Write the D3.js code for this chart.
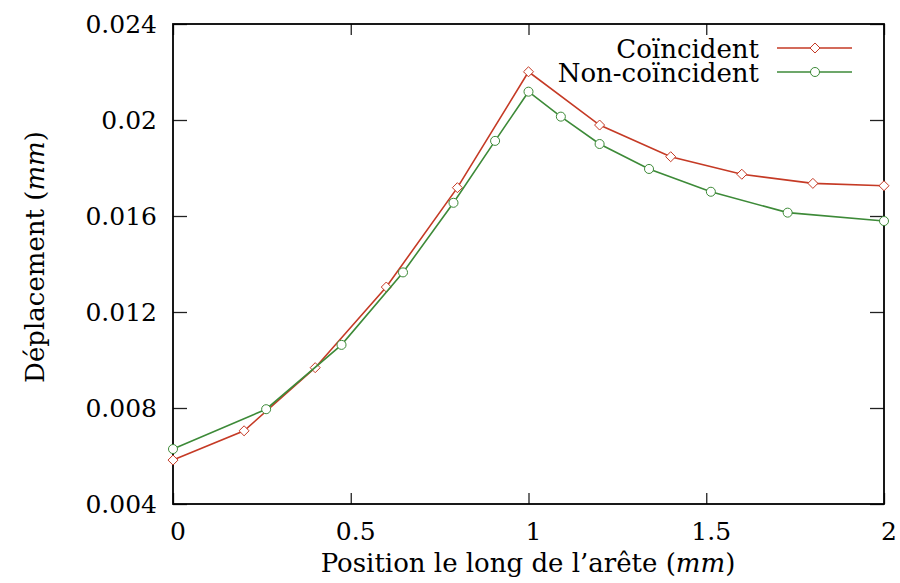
<!DOCTYPE html>
<html>
<head>
<meta charset="utf-8">
<script src="https://cdn.jsdelivr.net/npm/d3@7"></script>
<style>
  body { margin: 0; background: #fff; }
  svg { display: block; }
</style>
</head>
<body>
<svg id="chart" width="900" height="583"></svg>
<script>
// data
const seriesNames = ["Coïncident", "Non-coïncident"];
const coincX = [0, 0.2, 0.4, 0.6, 0.8, 1.0, 1.2, 1.4, 1.6, 1.8, 2.0];
const coincY = [0.00583, 0.00705, 0.00968, 0.01304, 0.01718, 0.02201, 0.01979, 0.01847, 0.01774, 0.01736, 0.01726];
const nonCoincX = [0, 0.262, 0.474, 0.647, 0.789, 0.906, 1.0, 1.091, 1.2, 1.339, 1.513, 1.729, 2.0];
const nonCoincY = [0.00629, 0.00795, 0.01063, 0.01365, 0.01655, 0.01913, 0.02118, 0.02014, 0.01900, 0.01796, 0.01701, 0.01614, 0.01579];
const xTicks = [0, 0.5, 1, 1.5, 2];
const xTickLabels = ["0", "0.5", "1", "1.5", "2"];
const yTicks = [0.004, 0.008, 0.012, 0.016, 0.02, 0.024];
const yTickLabels = ["0.004", "0.008", "0.012", "0.016", "0.02", "0.024"];

const colors = ["#c53a25", "#3d8a38"];
const serif = "DejaVu Serif, serif";
const tickFs = 25, titleFs = 26;

const svg = d3.select("#chart");
const plotL = 173, plotR = 884, plotT = 24, plotB = 504;

const x = d3.scaleLinear().domain([0, 2]).range([plotL, plotR]);
const y = d3.scaleLinear().domain([0.004, 0.024]).range([plotB, plotT]);

// ticks, all pointing inward, mirrored on the other sides
const tickStyle = sel => {
  sel.select(".domain").remove();
  sel.selectAll(".tick line").attr("stroke", "#222").attr("stroke-width", 1.3);
};
svg.append("g").attr("transform", `translate(0,${plotB})`)
  .call(d3.axisBottom(x).tickValues(xTicks).tickSize(-11).tickFormat(""))
  .call(tickStyle);
svg.append("g").attr("transform", `translate(0,${plotT})`)
  .call(d3.axisTop(x).tickValues(xTicks).tickSize(-11).tickFormat(""))
  .call(tickStyle);
svg.append("g").attr("transform", `translate(${plotL},0)`)
  .call(d3.axisLeft(y).tickValues(yTicks).tickSize(-14).tickFormat(""))
  .call(tickStyle);
svg.append("g").attr("transform", `translate(${plotR},0)`)
  .call(d3.axisRight(y).tickValues(yTicks).tickSize(-14).tickFormat(""))
  .call(tickStyle);

// frame
svg.append("rect")
  .attr("x", plotL).attr("y", plotT)
  .attr("width", plotR - plotL).attr("height", plotB - plotT)
  .attr("fill", "none").attr("stroke", "#000").attr("stroke-width", 1.8);

// tick labels
svg.append("g").selectAll("text")
  .data(xTicks)
  .join("text")
  .attr("x", d => x(d) + 5)
  .attr("y", 540)
  .attr("text-anchor", "middle")
  .style("font-family", serif)
  .style("font-size", tickFs + "px")
  .text((d, i) => xTickLabels[i]);

svg.append("g").selectAll("text")
  .data(yTicks)
  .join("text")
  .attr("x", 157)
  .attr("y", d => y(d) + 9)
  .attr("text-anchor", "end")
  .style("font-family", serif)
  .style("font-size", tickFs + "px")
  .text((d, i) => yTickLabels[i]);

// axis titles
const xt = svg.append("text")
  .attr("x", 528).attr("y", 572)
  .attr("text-anchor", "middle")
  .style("font-family", serif)
  .style("font-size", titleFs + "px");
xt.append("tspan").text("Position le long de l’arête (");
xt.append("tspan").attr("font-style", "italic").text("mm");
xt.append("tspan").text(")");

const yt = svg.append("text")
  .attr("transform", "translate(44,257) rotate(-90)")
  .attr("text-anchor", "middle")
  .style("font-family", serif)
  .style("font-size", titleFs + "px");
yt.append("tspan").text("Déplacement (");
yt.append("tspan").attr("font-style", "italic").text("mm");
yt.append("tspan").text(")");

// series
const series = [
  { name: seriesNames[0], xs: coincX, ys: coincY, symbol: d3.symbolDiamond2, size: 64 },
  { name: seriesNames[1], xs: nonCoincX, ys: nonCoincY, symbol: d3.symbolCircle, size: 64 }
];

const line = d3.line().x(d => x(d[0])).y(d => y(d[1]));

series.forEach((s, i) => {
  const pts = s.xs.map((v, j) => [v, s.ys[j]]);
  svg.append("path")
    .datum(pts)
    .attr("d", line)
    .attr("fill", "none")
    .attr("stroke", colors[i])
    .attr("stroke-width", 1.6);
  svg.append("g").selectAll("path")
    .data(pts)
    .join("path")
    .attr("transform", d => `translate(${x(d[0])},${y(d[1])})`)
    .attr("d", d3.symbol().type(s.symbol).size(s.size))
    .attr("fill", "#fff")
    .attr("stroke", colors[i])
    .attr("stroke-width", 1);
});

// legend
const legend = svg.append("g");
series.forEach((s, i) => {
  const ly = 48 + i * 24;
  legend.append("text")
    .attr("x", 759).attr("y", ly + 10)
    .attr("text-anchor", "end")
    .style("font-family", serif)
    .style("font-size", titleFs + "px")
    .text(s.name);
  legend.append("line")
    .attr("x1", 777).attr("x2", 852)
    .attr("y1", ly).attr("y2", ly)
    .attr("stroke", colors[i]).attr("stroke-width", 1.6);
  legend.append("path")
    .attr("transform", `translate(815,${ly})`)
    .attr("d", d3.symbol().type(s.symbol).size(s.size))
    .attr("fill", "#fff")
    .attr("stroke", colors[i])
    .attr("stroke-width", 1);
});
</script>
</body>
</html>
